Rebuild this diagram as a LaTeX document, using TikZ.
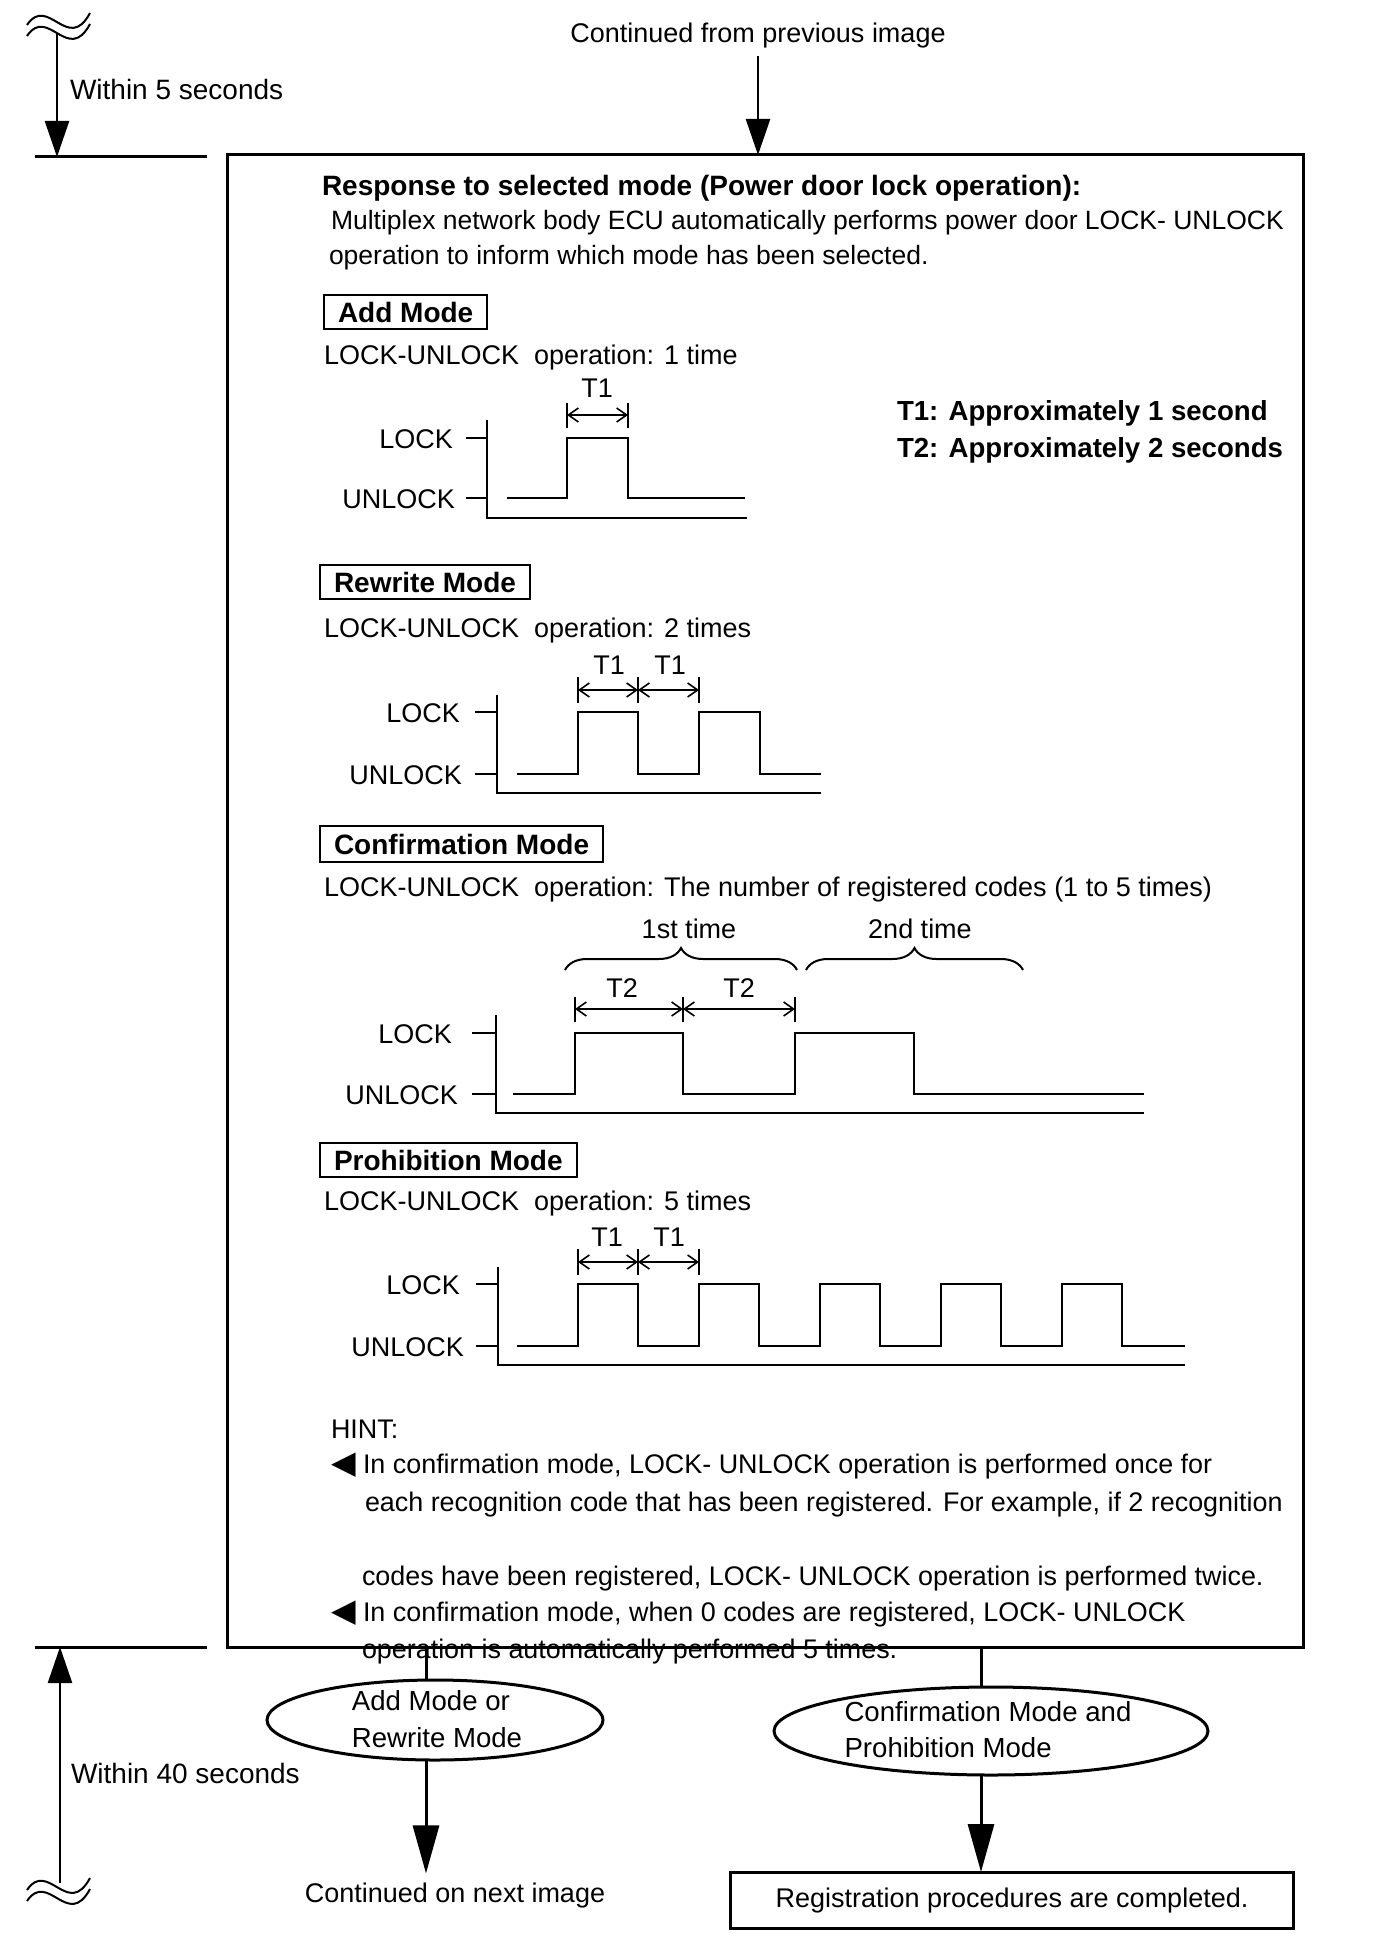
\documentclass[tikz,border=0pt]{standalone}
\usepackage{fontspec}
\setmainfont{Liberation Sans}
\newfontfamily\symfont{DejaVu Sans}
\usetikzlibrary{arrows.meta, positioning, shapes.geometric, decorations.pathreplacing}
\newcommand{\hintmark}{\makebox[16pt][l]{\symfont\fontsize{16pt}{16pt}\selectfont ◀}}
\tikzset{
  every node/.style={font=\fontsize{13.5pt}{16pt}\selectfont, inner sep=0pt, outer sep=0pt},
  heavy/.style={line width=1.5pt},
  wave/.style={line width=1.2pt},
  tickline/.style={line width=0.8pt},
  span/.style={line width=0.8pt, {Straight Barb[length=5pt,width=7pt]}-{Straight Barb[length=5pt,width=7pt]}},
  modebox/.style={draw, line width=1pt, inner xsep=7pt, minimum height=17pt, font=\fontsize{14pt}{17pt}\selectfont\bfseries},
  boldline/.style={font=\fontsize{13.8pt}{16pt}\selectfont\bfseries},
  desc/.style={font=\fontsize{13.25pt}{15pt}\selectfont},
  hinttext/.style={font=\fontsize{13.45pt}{16pt}\selectfont},
  timetext/.style={font=\fontsize{14pt}{17pt}\selectfont},
  flowarrow/.style={heavy, -{Triangle[length=24pt,width=13pt]}},
  timearrow/.style={line width=1.2pt, -{Triangle[length=18pt,width=12pt]}},
  timebrace/.style={line width=1pt, decorate, decoration={brace, amplitude=11pt}},
  cutmark/.pic={\foreach \d in {0,11} \draw[line width=1pt] (-31,{1+\d}) .. controls (-10,{-30+\d}) and (10,{30+\d}) .. (32,{-11+\d});}
}
\begin{document}
\begin{tikzpicture}[x=0.5pt, y=-0.5pt]
  \useasboundingbox (0,0) rectangle (1376,1942);

  % time marks on the left
  \pic at (58,24) {cutmark};
  \pic at (58,1889) {cutmark};
  \coordinate (cuttop) at (57,33);
  \coordinate (marktop) at (57,157);
  \coordinate (cutbot) at (60,1883);
  \coordinate (markbot) at (60,1647);
  \draw[heavy] (35,157) -- (207,157);
  \draw[heavy] (35,1647) -- (207,1647);
  \draw[timearrow] (cuttop) -- (marktop);
  \draw[timearrow] (cutbot) -- (markbot);
  \node[timetext, anchor=base west] (within5) at (70,100) {Within 5 seconds};
  \node[timetext, anchor=base west] (within40) at (71,1783) {Within 40 seconds};

  % main panel
  \node[draw, heavy, anchor=north west, minimum width=538pt, minimum height=746pt] (panel) at (227,155) {};
  \node[anchor=base, inner ysep=3.5pt] (fromprev) at (758,43) {Continued from previous image};
  \draw[timearrow] (fromprev.south) -- (fromprev.south |- panel.north);

  \node[font=\fontsize{14pt}{16pt}\selectfont\bfseries, anchor=base west] (title) at (322,196) {Response to selected mode (Power door lock operation):};
  \node[desc, anchor=base west] (desc1) at (331,229) {Multiplex network body ECU automatically performs power door LOCK- UNLOCK};
  \node[desc, anchor=base west] (desc2) at (329,264) {operation to inform which mode has been selected.};

  \node[boldline, anchor=base west] (legend1) at (897,420) {T1: Approximately 1 second};
  \node[boldline, anchor=base west] (legend2) at (897,457) {T2: Approximately 2 seconds};

  % Add Mode
  \node[modebox, anchor=west] (addbox) at (324,312) {Add Mode};
  \node[anchor=base west] (op1) at (324,364) {LOCK-UNLOCK~ operation: 1 time};
  \node[anchor=base east] (lock1) at (453,448) {LOCK};
  \node[anchor=base east] (unlock1) at (455,508) {UNLOCK};
  \draw[wave] (487,420) |- (747,518);
  \draw[wave] (466,438) -- (487,438) (466,498) -- (487,498);
  \draw[wave] (507,498) -| (567,438) -| (628,498) -- (745,498);
  \draw[tickline] (567,403) -- (567,428) (628,403) -- (628,428);
  \draw[span] (567,415) -- (628,415);
  \node[anchor=base] (t1a) at (597,397) {T1};

  % Rewrite Mode
  \node[modebox, anchor=west] (rewritebox) at (320,582) {Rewrite Mode};
  \node[anchor=base west] (op2) at (324,637) {LOCK-UNLOCK~ operation: 2 times};
  \node[anchor=base east] (lock2) at (460,722) {LOCK};
  \node[anchor=base east] (unlock2) at (462,784) {UNLOCK};
  \draw[wave] (497,695) |- (821,793);
  \draw[wave] (475,712) -- (497,712) (475,774) -- (497,774);
  \draw[wave] (517,774) -| (578,712) -| (638,774) -| (699,712) -| (760,774) -- (821,774);
  \draw[tickline] (578,677) -- (578,703) (638,677) -- (638,703) (699,677) -- (699,703);
  \draw[span] (578,690) -- (638,690);
  \draw[span] (638,690) -- (699,690);
  \node[anchor=base] (t1b) at (609,674) {T1};
  \node[anchor=base] (t1c) at (670,674) {T1};

  % Confirmation Mode
  \node[modebox, anchor=west, minimum height=18pt] (confbox) at (320,844) {Confirmation Mode};
  \node[anchor=base west] (op3) at (324,896) {LOCK-UNLOCK~ operation: The number of registered codes (1 to 5 times)};
  \node[anchor=base] (first) at (689,938) {1st time};
  \node[anchor=base] (second) at (920,938) {2nd time};
  \draw[timebrace] (565,970) -- (797,970);
  \draw[timebrace] (806,970) -- (1023,970);
  \node[anchor=base east] (lock3) at (452,1043) {LOCK};
  \node[anchor=base east] (unlock3) at (458,1104) {UNLOCK};
  \draw[wave] (496,1015) |- (1144,1113);
  \draw[wave] (472,1033) -- (496,1033) (472,1094) -- (496,1094);
  \draw[wave] (513,1094) -| (575,1033) -| (683,1094) -| (795,1033) -| (914,1094) -- (1144,1094);
  \draw[tickline] (575,997) -- (575,1022) (683,997) -- (683,1022) (795,997) -- (795,1022);
  \draw[span] (575,1009) -- (683,1009);
  \draw[span] (683,1009) -- (795,1009);
  \node[anchor=base] (t2a) at (622,997) {T2};
  \node[anchor=base] (t2b) at (739,997) {T2};

  % Prohibition Mode
  \node[modebox, anchor=west] (prohibbox) at (320,1160) {Prohibition Mode};
  \node[anchor=base west] (op4) at (324,1210) {LOCK-UNLOCK~ operation: 5 times};
  \node[anchor=base east] (lock4) at (460,1294) {LOCK};
  \node[anchor=base east] (unlock4) at (464,1356) {UNLOCK};
  \draw[wave] (498,1267) |- (1185,1365);
  \draw[wave] (476,1284) -- (498,1284) (476,1346) -- (498,1346);
  \draw[wave] (517,1346) \foreach \k in {0,...,4} { -| ({578+121*\k},1284) -| ({638+121*\k},1346) } -- (1185,1346);
  \draw[tickline] (578,1249) -- (578,1275) (638,1249) -- (638,1275) (699,1249) -- (699,1275);
  \draw[span] (578,1262) -- (638,1262);
  \draw[span] (638,1262) -- (699,1262);
  \node[anchor=base] (t1d) at (607,1246) {T1};
  \node[anchor=base] (t1e) at (669,1246) {T1};

  % hint
  \node[hinttext, anchor=base west] (hint) at (331,1438) {HINT:};
  \node[hinttext, anchor=base west] (hint1) at (331,1473) {\hintmark In confirmation mode, LOCK- UNLOCK operation is performed once for};
  \node[hinttext, anchor=base west] (hint2) at (365,1511) {each recognition code that has been registered. For example, if 2 recognition};
  \node[hinttext, anchor=base west] (hint3) at (362,1585) {codes have been registered, LOCK- UNLOCK operation is performed twice.};
  \node[hinttext, anchor=base west] (hint4) at (331,1621) {\hintmark In confirmation mode, when 0 codes are registered, LOCK- UNLOCK};
  \node[hinttext, anchor=base west] (hint5) at (362,1658) {operation is automatically performed 5 times.};

  % branches below the panel
  \node[ellipse, draw, heavy, minimum width=168pt, minimum height=40pt] (ellA) at (435,1720) {};
  \node[align=left, font=\fontsize{13.8pt}{18.5pt}\selectfont] (ellAtext) at (437,1719) {Add Mode or\\Rewrite Mode};
  \node[ellipse, draw, heavy, minimum width=217pt, minimum height=44pt] (ellB) at (991,1731) {};
  \node[align=left, font=\fontsize{13.8pt}{18pt}\selectfont] (ellBtext) at (988,1730) {Confirmation Mode and\\Prohibition Mode};
  \node[anchor=base, inner ysep=4.5pt] (nextimg) at (455,1902) {Continued on next image};
  \node[draw, heavy, minimum width=281.5pt, minimum height=28pt] (done) at (1012,1900) {Registration procedures are completed.};

  \draw[heavy] ([xshift=-4.5pt]ellA.north |- panel.south) -- ([xshift=-4.5pt]ellA.north);
  \draw[flowarrow] ([xshift=-4.5pt]ellA.south) -- ([xshift=-4.5pt]ellA.south |- nextimg.north);
  \draw[heavy] ([xshift=-5pt]ellB.north |- panel.south) -- ([xshift=-5pt]ellB.north);
  \draw[flowarrow] ([xshift=-5pt]ellB.south) -- ([xshift=-5pt]ellB.south |- done.north);
\end{tikzpicture}
\end{document}
